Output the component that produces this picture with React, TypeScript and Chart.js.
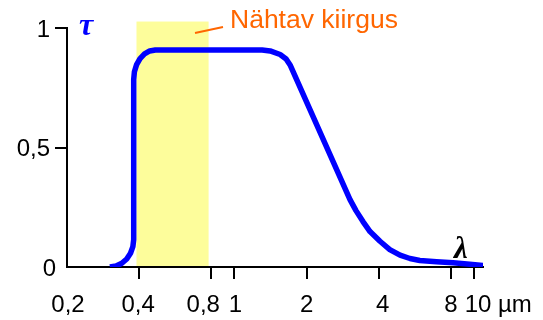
import { useEffect, useRef } from "react";
import { Chart, registerables } from "chart.js";

Chart.register(...registerables);

// Transmittance curve: wavelength (µm) and transmittance τ
const wavelengthUm = [
  0.302, 0.3206, 0.3387, 0.3551, 0.3682, 0.3767, 0.3797,
  0.3797, 0.3823, 0.3904, 0.4035, 0.4213, 0.4429, 0.4675,
  1.305, 1.409, 1.551, 1.643, 1.707,
  3.036, 3.216, 3.439, 3.68, 4.05, 4.45, 4.91, 5.4, 5.94, 6.97, 8.18, 9.6, 10.9,
];
const transmittance = [
  0.0, 0.004, 0.0155, 0.0336, 0.0574, 0.0852, 0.1148,
  0.785, 0.8169, 0.8466, 0.8721, 0.8916, 0.904, 0.9081,
  0.9081, 0.904, 0.889, 0.8706, 0.8455,
  0.2818, 0.2359, 0.19, 0.1482, 0.1077, 0.0731, 0.0493, 0.0355, 0.0271, 0.0217, 0.0175, 0.0117, 0.0063,
];

const xTickValues = [0.2, 0.4, 0.8, 1, 2, 4, 8, 10];
const yTickValues = [0, 0.5, 1];
const xRange = [0.2, 10.9];
const visibleBand = [0.39, 0.78];
const visibleBandTop = 1.027;

const bandLabel = "Nähtav kiirgus";
const unitLabel = "µm";
const yAxisSymbol = "τ";
const xAxisSymbol = "λ";

const SANS = "'Liberation Sans', Arial, sans-serif";
const SERIF = "'Liberation Serif', 'Times New Roman', serif";

const decimalComma = (v: number) => String(v).replace(".", ",");

// small horizontal nudges for individual x tick labels (px)
const xLabelNudge: Record<string, number> = {
  "0.2": 1, "0.4": -1, "0.8": -8, "1": 1, "2": 0, "4": 4, "8": 0, "10": 4,
};

const decorations = {
  id: "decorations",
  beforeDraw(chart: any) {
    const { ctx, scales } = chart;
    const xs = scales.x;
    const ys = scales.y;
    const x0 = xs.getPixelForValue(visibleBand[0]);
    const x1 = xs.getPixelForValue(visibleBand[1]);
    const yTop = ys.getPixelForValue(visibleBandTop);
    const yBot = ys.getPixelForValue(0);
    ctx.save();
    ctx.fillStyle = "#FDFD9B";
    ctx.fillRect(x0, yTop, x1 - x0, yBot - yTop);
    ctx.restore();
  },
  afterDraw(chart: any) {
    const { ctx, chartArea, scales } = chart;
    const { left, top, bottom } = chartArea;
    const xs = scales.x;
    const ys = scales.y;
    ctx.save();

    // tick labels
    ctx.fillStyle = "#000";
    ctx.font = `24px ${SANS}`;
    ctx.textBaseline = "alphabetic";
    ctx.textAlign = "center";
    for (const v of xTickValues) {
      const px = xs.getPixelForValue(v) + (xLabelNudge[String(v)] || 0);
      ctx.fillText(decimalComma(v), px, bottom + 45);
    }
    ctx.textAlign = "right";
    for (const v of yTickValues) {
      const py = ys.getPixelForValue(v) + 8.5;
      ctx.fillText(decimalComma(v), v === 0 ? left - 11 : left - 17, py);
    }

    // unit after the last tick label
    ctx.textAlign = "left";
    ctx.fillText(unitLabel, 498, bottom + 45);

    // τ symbol next to the vertical axis
    ctx.fillStyle = "#0000FF";
    ctx.font = `bold italic 32px ${SERIF}`;
    ctx.textAlign = "center";
    ctx.fillText(yAxisSymbol, left + 19, top + 7);

    // λ symbol above the horizontal axis
    ctx.fillStyle = "#000";
    ctx.font = `bold italic 31px ${SERIF}`;
    ctx.fillText(xAxisSymbol, 461, bottom - 9);

    // band caption with pointer line
    ctx.fillStyle = "#FF6600";
    ctx.font = `26.5px ${SANS}`;
    ctx.textAlign = "left";
    ctx.fillText(bandLabel, 230, top);
    ctx.strokeStyle = "#FF6600";
    ctx.lineWidth = 2;
    ctx.beginPath();
    ctx.moveTo(195, top + 5);
    ctx.lineTo(223, top - 1);
    ctx.stroke();

    ctx.restore();
  },
};

export default function App() {
  const canvasRef = useRef<HTMLCanvasElement>(null);

  useEffect(() => {
    const canvas = canvasRef.current;
    if (!canvas) return;
    const chart = new Chart(canvas, {
      type: "line",
      data: {
        datasets: [
          {
            data: wavelengthUm.map((x, i) => ({ x, y: transmittance[i] })),
            borderColor: "#0000FF",
            borderWidth: 5.5,
            borderJoinStyle: "round",
            pointRadius: 0,
            tension: 0,
            fill: false,
          },
        ],
      },
      options: {
        animation: false,
        responsive: false,
        devicePixelRatio: 1,
        layout: { padding: { top: 28, right: 60, left: 0, bottom: 0 } },
        plugins: {
          legend: { display: false },
          tooltip: { enabled: false },
        },
        scales: {
          x: {
            type: "logarithmic",
            min: xRange[0],
            max: xRange[1],
            afterBuildTicks: (s: any) => {
              s.ticks = xTickValues.map((value) => ({ value }));
            },
            afterFit: (s: any) => {
              s.height = 53;
            },
            ticks: { display: false, autoSkip: false },
            grid: {
              drawOnChartArea: false,
              drawTicks: true,
              tickLength: 12,
              lineWidth: 2,
              color: (c: any) => (c.index === 0 ? "rgba(0,0,0,0)" : "#000"),
            },
            border: { display: true, color: "#000", width: 2 },
          },
          y: {
            type: "linear",
            min: 0,
            max: 1,
            afterBuildTicks: (s: any) => {
              s.ticks = yTickValues.map((value) => ({ value }));
            },
            afterFit: (s: any) => {
              s.width = 67;
            },
            ticks: { display: false },
            grid: {
              drawOnChartArea: false,
              drawTicks: true,
              tickLength: 12,
              lineWidth: 2,
              color: (c: any) => (c.index === 0 ? "rgba(0,0,0,0)" : "#000"),
            },
            border: { display: true, color: "#000", width: 2 },
          },
        },
      },
      plugins: [decorations],
    });
    return () => chart.destroy();
  }, []);

  return (
    <div style={{ position: "fixed", left: 0, top: 0, width: 543, height: 320, background: "#fff" }}>
      <canvas ref={canvasRef} width={543} height={320} style={{ display: "block" }} />
    </div>
  );
}
